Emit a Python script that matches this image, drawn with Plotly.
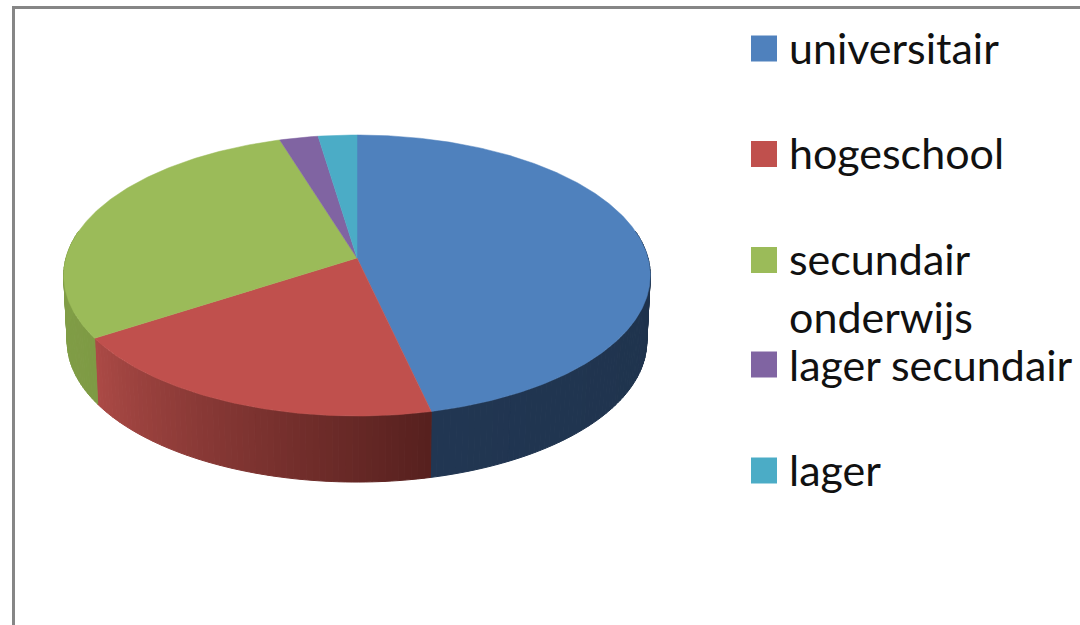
import numpy as np
import plotly.graph_objects as go

categories = ["universitair", "hogeschool", "secundair<br>onderwijs", "lager secundair", "lager"]
values = [46.4, 19.5, 29.3, 2.4, 2.4]

top_colors = ["#4F81BD", "#C0504D", "#9BBB59", "#8064A2", "#4BACC6"]
side_start = [(33, 54, 82), (172, 74, 70), (130, 160, 72), (92, 72, 118), (54, 124, 142)]
side_end = [(30, 50, 75), (86, 32, 30), (126, 154, 68), (92, 72, 118), (54, 124, 142)]

CX, CY, RX, BACK, DEPTH = 357.0, 258.0, 291.0, 106.2, 66.0
K = 0.1246


def project(theta, depth=0.0):
    X, Y = np.sin(theta), np.cos(theta)
    scale = 1 - 0.012 * depth / DEPTH
    return CX + RX * scale * X / (1 + K * Y), (CY - BACK * Y) / (1 + K * Y) + depth


fig = go.Figure()
fracs = np.cumsum([0] + values) / sum(values) * 2 * np.pi

# side wall strips
for i in range(len(values)):
    a0, a1 = fracs[i], fracs[i + 1]
    lo, hi = max(a0, np.pi / 2 - 0.2), min(a1, 3 * np.pi / 2 + 0.2)
    if hi <= lo:
        continue
    n = max(2, int((hi - lo) / 0.02))
    edges = np.linspace(lo, hi, n + 1)
    for j in range(n):
        t = (j + 0.5) / n
        s, e = side_start[i], side_end[i]
        c = tuple(int(round(e[k] + (s[k] - e[k]) * t)) for k in range(3))
        th = np.array([edges[j], edges[j + 1]])
        xt, yt = project(th)
        xb, yb = project(th, DEPTH)
        col = f"rgb{c}"
        fig.add_trace(go.Scatter(
            x=[xt[0], xt[1], xb[1], xb[0], xt[0]], y=[yt[0], yt[1], yb[1], yb[0], yt[0]],
            mode="lines", fill="toself", fillcolor=col, line=dict(color=col, width=1),
            hoverinfo="skip", showlegend=False))

# top face slices
for i, name in enumerate(categories):
    th = np.linspace(fracs[i], fracs[i + 1], max(3, int((fracs[i + 1] - fracs[i]) / 0.01)))
    xe, ye = project(th)
    fig.add_trace(go.Scatter(
        x=[CX, *xe, CX], y=[CY, *ye, CY], mode="lines", fill="toself",
        fillcolor=top_colors[i], line=dict(color=top_colors[i], width=0.5),
        name=name.replace("<br>", " "), hoverinfo="name", showlegend=False))

# legend
legend_y = [48.5, 154, 260, 364.5, 470.5]
text_y = [47, 152, 258, 364, 469]
for i, name in enumerate(categories):
    fig.add_trace(go.Scatter(
        x=[764], y=[legend_y[i]], mode="markers",
        marker=dict(symbol="square", size=26, color=top_colors[i]),
        hoverinfo="skip", showlegend=False))
    lines = name.split("<br>")
    for j, line in enumerate(lines):
        fig.add_annotation(
            x=787, y=text_y[i] + 58 * j, text=line, showarrow=False, xanchor="left", yanchor="middle",
            xref="x", yref="y", font=dict(family="Lato", size=43, color="#111111"))

fig.update_layout(
    width=1080, height=625, margin=dict(l=0, r=0, t=0, b=0),
    paper_bgcolor="white", plot_bgcolor="white", showlegend=False,
    xaxis=dict(range=[0, 1080], visible=False, fixedrange=True),
    yaxis=dict(range=[625, 0], visible=False, fixedrange=True),
    shapes=[
        dict(type="line", xref="x", yref="y", x0=12, x1=1080, y0=7.5, y1=7.5, line=dict(color="#868686", width=3)),
        dict(type="line", xref="x", yref="y", x0=13.5, x1=13.5, y0=6, y1=625, line=dict(color="#868686", width=3)),
    ],
)
fig.write_html("out.html", config={"displayModeBar": False},
               post_script="document.body.style.margin='0';document.body.style.overflow='hidden';")
